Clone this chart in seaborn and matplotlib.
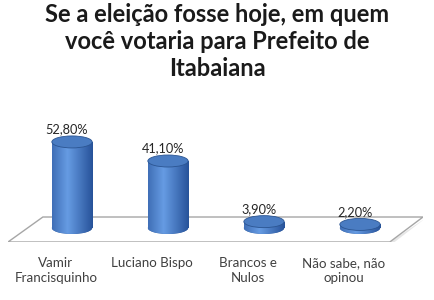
import numpy as np
import pandas as pd
import matplotlib
matplotlib.use("Agg")
import matplotlib.pyplot as plt
from matplotlib.patches import Ellipse, Polygon, Rectangle
import seaborn as sns

title = "Se a eleição fosse hoje, em quem\nvocê votaria para Prefeito de\nItabaiana"
categories = ["Vamir\nFrancisquinho", "Luciano Bispo", "Brancos e\nNulos", "Não sabe, não\nopinou"]
values = [52.8, 41.1, 3.9, 2.2]
value_labels = ["52,80%", "41,10%", "3,90%", "2,20%"]

sns.set_theme(style="white")
plt.rcParams['font.family'] = ['Lato', 'DejaVu Sans']

W, H = 434, 300
fig = plt.figure(figsize=(W / 100, H / 100), dpi=100)
fig.patch.set_facecolor("white")

# axes region in pixels
px_l, px_r, px_t, px_b = 8, 423, 100, 242
ax = fig.add_axes([px_l / W, 1 - px_b / H, (px_r - px_l) / W, (px_b - px_t) / H])
ax.set_facecolor("none")

ppu = 1.63  # pixels per percent
y0_px = 228
xc0, dx = 72, 96

# floor
floor = Polygon([(0, 0), (0.92, 0), (1.0, 0.176), (0.084, 0.176)], closed=True,
                transform=ax.transAxes, facecolor="white", edgecolor="#a6a6a6",
                linewidth=1.0, zorder=0)
shadow = Polygon([(0.005, -0.015), (0.925, -0.015), (1.005, 0.165), (0.92, 0)], closed=True,
                 transform=ax.transAxes, facecolor="#e6e6e6", edgecolor="none", zorder=-1)
ax.add_patch(shadow)
ax.add_patch(floor)

df = pd.DataFrame({"cat": categories, "val": values})
bw = 0.42
sns.barplot(data=df, x="cat", y="val", color="#3a6cb4", width=bw, ax=ax,
            saturation=1, zorder=2, linewidth=0)
ax.set_xlim((px_l - xc0) / dx, (px_r - xc0) / dx)
ax.set_ylim((y0_px - px_b) / ppu, (y0_px - px_t) / ppu)
ax.axis("off")

eh = 12 / ppu  # ellipse height in data units
grad = np.linspace(0, 1, 256)
prof = np.clip(1 - np.abs(grad - 0.38) * 1.6, 0, 1)
dark = np.array([0.15, 0.32, 0.60])
light = np.array([0.40, 0.61, 0.89])
img = (dark[None, :] + (light - dark)[None, :] * prof[:, None])[None, :, :]

bars = [p for p in ax.patches if isinstance(p, Rectangle)]
for i, p in enumerate(bars):
    x = p.get_x()
    w = p.get_width()
    h = p.get_height()
    cx = x + w / 2
    im = ax.imshow(img, extent=[x, x + w, 0, h], aspect="auto", zorder=3)
    im.set_clip_path(p)
    ebot = Ellipse((cx, 0), w, eh, facecolor="#2f5d9e", edgecolor="none", zorder=2.5)
    ax.add_patch(ebot)
    im2 = ax.imshow(img, extent=[x, x + w, -eh / 2, eh / 2], aspect="auto", zorder=2.6)
    im2.set_clip_path(ebot)
    etop = Ellipse((cx, h), w, eh, facecolor="#4a7cc2", edgecolor="#2b5592",
                   linewidth=0.6, zorder=4)
    ax.add_patch(etop)
    ax.text(cx - 5 / dx, h + eh / 2 + 0.3, value_labels[i], ha="center", va="bottom",
            fontsize=9.2, color="#262626", zorder=5)

ax.set_xlim((px_l - xc0) / dx, (px_r - xc0) / dx)
ax.set_ylim((y0_px - px_b) / ppu, (y0_px - px_t) / ppu)

for i, c in enumerate(categories):
    ax.text(i - 16 / dx, (y0_px - 257) / ppu, c, ha="center", va="top", fontsize=9.6,
            color="#404040", linespacing=1.25)

fig.text(0.5, 1 - 3 / H, title, ha="center", va="top", fontsize=17,
         fontweight="bold", color="#1a1a1a", linespacing=1.22)

fig.savefig("out.png", dpi=100, facecolor="white")
